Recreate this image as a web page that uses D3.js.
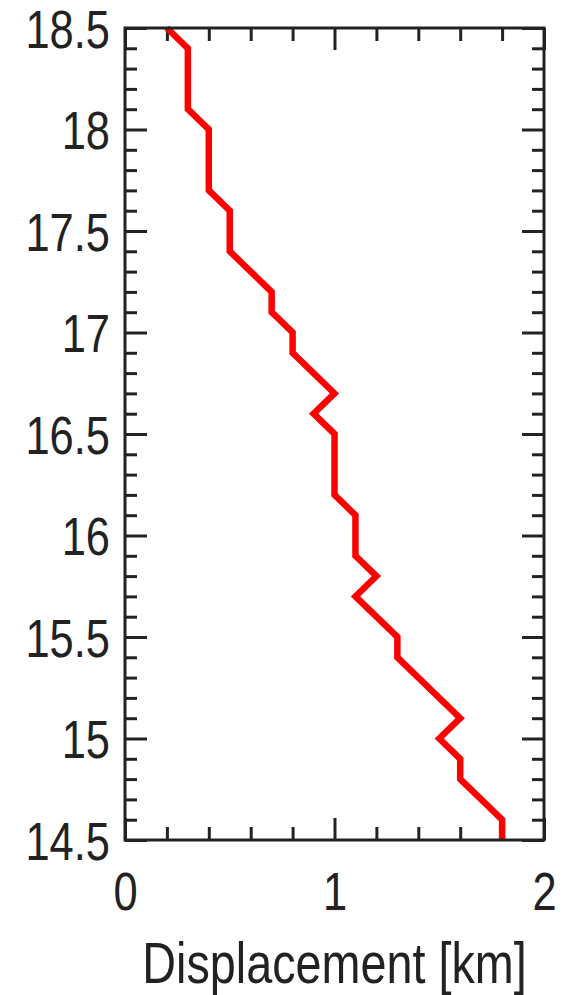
<!DOCTYPE html>
<html>
<head>
<meta charset="utf-8">
<script src="https://cdn.jsdelivr.net/npm/d3@7"></script>
<style>
  html, body { margin: 0; padding: 0; background: #fff; }
  svg text { font-family: "Liberation Sans", Arial, sans-serif; fill: #222; }
</style>
</head>
<body>
<div id="chart"></div>
<script>
'use strict';

// depth profile (y) vs displacement (x)
const depth = [18.5, 18.4, 18.1, 18.0, 17.7, 17.6, 17.4, 17.2, 17.1, 17.0, 16.9, 16.7, 16.6, 16.5,
               16.2, 16.1, 15.9, 15.8, 15.7, 15.5, 15.4, 15.1, 15.0, 14.9, 14.8, 14.6, 14.5];
const displacement = [0.2, 0.3, 0.3, 0.4, 0.4, 0.5, 0.5, 0.7, 0.7, 0.8, 0.8, 1.0, 0.9, 1.0,
                      1.0, 1.1, 1.1, 1.2, 1.1, 1.3, 1.3, 1.6, 1.5, 1.6, 1.6, 1.8, 1.8];

const xMajorTicks = [0, 1, 2];
const xMinorTicks = [0.2, 0.4, 0.6, 0.8, 1.2, 1.4, 1.6, 1.8];
const yMajorTicks = [14.5, 15, 15.5, 16, 16.5, 17, 17.5, 18, 18.5];
const yMinorTicks = d3.range(145, 186).filter(v => v % 5 !== 0).map(v => v / 10);
const xLabel = 'Displacement [km]';

const width = 567, height = 995;
const margin = { top: 28, right: 23, bottom: 155, left: 125 };
const fontSize = 53;
const titleSize = 57;
const squeeze = 0.82;   // narrow the glyphs (no condensed font available)

const svg = d3.select('#chart')
  .append('svg')
  .attr('width', width)
  .attr('height', height);

const x = d3.scaleLinear().domain([0, 2]).range([margin.left, width - margin.right]);
const y = d3.scaleLinear().domain([14.5, 18.5]).range([height - margin.bottom, margin.top]);

const axisColor = '#222';
const fmt = d => String(d);

function styleAxis(g) {
  g.select('.domain').remove();
  g.selectAll('line').attr('stroke', axisColor).attr('stroke-width', 3);
  g.selectAll('text')
    .attr('font-size', fontSize)
    .attr('fill', axisColor)
    .attr('x', function() { return +d3.select(this).attr('x') / squeeze; })
    .attr('transform', `scale(${squeeze},1)`);
}

// minor ticks on all four sides
svg.append('g').attr('transform', `translate(${x.range()[0]},0)`)
  .call(d3.axisLeft(y).tickValues(yMinorTicks).tickSize(-12).tickFormat(''))
  .call(styleAxis);
svg.append('g').attr('transform', `translate(${x.range()[1]},0)`)
  .call(d3.axisRight(y).tickValues(yMinorTicks).tickSize(-12).tickFormat(''))
  .call(styleAxis);
svg.append('g').attr('transform', `translate(0,${y.range()[0]})`)
  .call(d3.axisBottom(x).tickValues(xMinorTicks).tickSize(-13).tickFormat(''))
  .call(styleAxis);
svg.append('g').attr('transform', `translate(0,${y.range()[1]})`)
  .call(d3.axisTop(x).tickValues(xMinorTicks).tickSize(-13).tickFormat(''))
  .call(styleAxis);

// major ticks with labels
svg.append('g').attr('transform', `translate(${x.range()[0]},0)`)
  .call(d3.axisLeft(y).tickValues(yMajorTicks).tickSize(-22).tickPadding(15).tickFormat(fmt))
  .call(styleAxis)
  .call(g => g.selectAll('text').attr('dy', '0.36em'));
svg.append('g').attr('transform', `translate(${x.range()[1]},0)`)
  .call(d3.axisRight(y).tickValues(yMajorTicks).tickSize(-22).tickFormat(''))
  .call(styleAxis);
svg.append('g').attr('transform', `translate(0,${y.range()[0]})`)
  .call(d3.axisBottom(x).tickValues(xMajorTicks).tickSize(-22).tickPadding(32).tickFormat(fmt))
  .call(styleAxis)
  .call(g => g.selectAll('text').attr('dy', '0.71em'));
svg.append('g').attr('transform', `translate(0,${y.range()[1]})`)
  .call(d3.axisTop(x).tickValues(xMajorTicks).tickSize(-22).tickFormat(''))
  .call(styleAxis);

// data line
const points = depth.map((d, i) => [displacement[i], d]);
svg.append('path')
  .datum(points)
  .attr('fill', 'none')
  .attr('stroke', '#ff0000')
  .attr('stroke-width', 6.5)
  .attr('stroke-linejoin', 'miter')
  .attr('d', d3.line().x(d => x(d[0])).y(d => y(d[1])));

// frame
svg.append('rect')
  .attr('x', x.range()[0])
  .attr('y', y.range()[1])
  .attr('width', x.range()[1] - x.range()[0])
  .attr('height', y.range()[0] - y.range()[1])
  .attr('fill', 'none')
  .attr('stroke', axisColor)
  .attr('stroke-width', 3);

// axis title
svg.append('text')
  .attr('transform', `translate(${(x.range()[0] + x.range()[1]) / 2},983) scale(${squeeze},1)`)
  .attr('text-anchor', 'middle')
  .attr('font-size', titleSize)
  .text(xLabel);
</script>
</body>
</html>
